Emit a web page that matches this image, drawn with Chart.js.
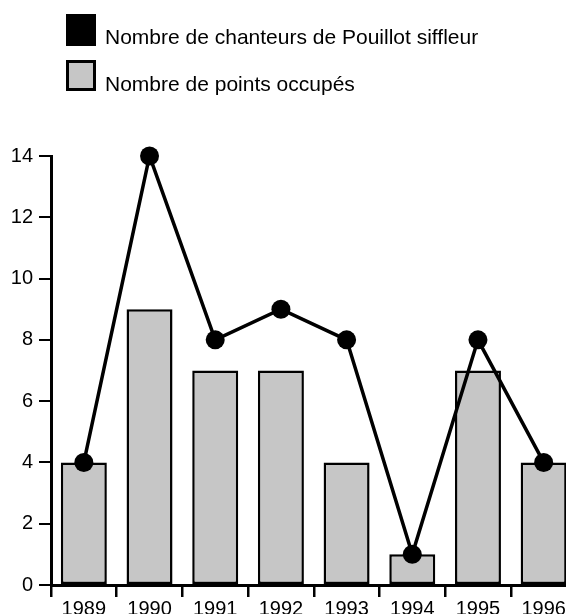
<!DOCTYPE html>
<html>
<head>
<meta charset="utf-8">
<script src="https://cdn.jsdelivr.net/npm/chart.js@4"></script>
<style>
  html, body { margin: 0; padding: 0; background: #fff; overflow: hidden; }
  #wrap { position: relative; width: 566px; height: 614px; overflow: hidden; }
  #chart { position: absolute; left: 0; top: 0; }
  .leg { position: absolute; left: 66px; font-family: "Liberation Sans", Arial, sans-serif; font-size: 21px; color: #000; }
  .leg .box { position: absolute; left: 0; width: 30px; height: 32px; box-sizing: border-box; }
  .leg span { position: absolute; left: 39px; white-space: nowrap; }
</style>
</head>
<body>
<div id="wrap">
  <canvas id="chart" width="586" height="614"></canvas>
  <div class="leg" style="top:14px">
    <div class="box" style="background:#000"></div>
    <span style="top:11px">Nombre de chanteurs de Pouillot siffleur</span>
  </div>
  <div class="leg" style="top:60px">
    <div class="box" style="background:#c6c6c6;border:3px solid #000;height:31px"></div>
    <span style="top:12px">Nombre de points occupés</span>
  </div>
</div>
<script>
const YEARS = ['1989', '1990', '1991', '1992', '1993', '1994', '1995', '1996'];
const CHANTEURS = [4, 14, 8, 9, 8, 1, 8, 4];   // ligne avec points noirs
const POINTS_OCCUPES = [4, 9, 7, 7, 4, 1, 7, 4]; // barres grises
const Y_TICKS = [0, 2, 4, 6, 8, 10, 12, 14];

const FONT = { family: '"Liberation Sans", Arial, sans-serif', size: 20 };

const ctx = document.getElementById('chart').getContext('2d');
new Chart(ctx, {
    type: 'bar',
    data: {
        labels: YEARS,
        datasets: [
            {
                type: 'line',
                label: 'Nombre de chanteurs de Pouillot siffleur',
                data: CHANTEURS,
                borderColor: '#000',
                backgroundColor: '#000',
                borderWidth: 3.5,
                pointRadius: 9.5,
                pointBorderWidth: 0,
                tension: 0,
                clip: false,
                order: 0
            },
            {
                type: 'bar',
                label: 'Nombre de points occupés',
                data: POINTS_OCCUPES,
                backgroundColor: '#c6c6c6',
                borderColor: '#000',
                borderWidth: 2.5,
                borderSkipped: false,
                categoryPercentage: 1,
                barPercentage: 0.7,
                order: 1
            }
        ]
    },
    options: {
        responsive: false,
        animation: false,
        layout: { padding: { top: 156, left: 0, right: 0, bottom: 0 } },
        plugins: { legend: { display: false }, tooltip: { enabled: false } },
        scales: {
            x: {
                offset: true,
                grid: { offset: true, drawOnChartArea: false, drawTicks: true, tickLength: 12, color: '#000', lineWidth: 2.5 },
                border: { display: true, color: '#000', width: 3 },
                ticks: { color: '#000', font: FONT, padding: 0, maxRotation: 0 },
                afterFit: (scale) => { scale.height = 29; }
            },
            y: {
                min: 0,
                max: 14,
                afterBuildTicks: (scale) => { scale.ticks = Y_TICKS.map(v => ({ value: v })); },
                grid: { drawOnChartArea: false, drawTicks: true, tickLength: 12, color: '#000', lineWidth: 2 },
                border: { display: true, color: '#000', width: 3 },
                ticks: { color: '#000', font: FONT, padding: 6 },
                afterFit: (scale) => { scale.width = 51; }
            }
        }
    }
});
</script>
</body>
</html>
